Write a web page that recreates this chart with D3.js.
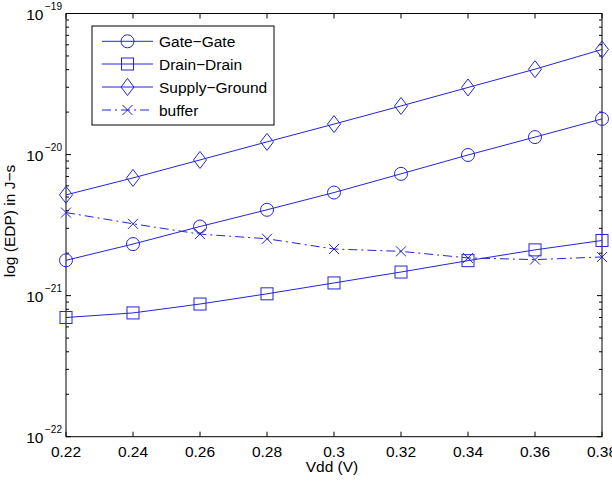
<!DOCTYPE html>
<html><head><meta charset="utf-8">
<script src="https://cdn.jsdelivr.net/npm/d3@7"></script>
<style>body{margin:0;background:#fff}svg{display:block}text{font-family:"Liberation Sans",Arial,sans-serif;fill:#000}</style>
</head><body><svg id="c" width="612" height="486"></svg>
<script>
const vdd = [0.22,0.24,0.26,0.28,0.30,0.32,0.34,0.36,0.38];
const gateGate = [1.78e-21,2.32e-21,3.09e-21,4.06e-21,5.38e-21,7.3e-21,9.93e-21,1.33e-20,1.79e-20];
const drainDrain = [7.0e-22,7.54e-22,8.72e-22,1.03e-21,1.23e-21,1.47e-21,1.77e-21,2.11e-21,2.46e-21];
const supplyGround = [5.18e-21,6.83e-21,9.16e-21,1.23e-20,1.645e-20,2.21e-20,2.99e-20,4.03e-20,5.56e-20];
const buffer = [3.88e-21,3.23e-21,2.73e-21,2.53e-21,2.14e-21,2.06e-21,1.85e-21,1.80e-21,1.88e-21];
const xTicks = [0.22,0.24,0.26,0.28,0.30,0.32,0.34,0.36,0.38];
const xTickLabels = ["0.22","0.24","0.26","0.28","0.3","0.32","0.34","0.36","0.38"];
const yExps = [-22,-21,-20,-19];
const seriesNames = ["Gate\u2212Gate","Drain\u2212Drain","Supply\u2212Ground","buffer"];

const svg = d3.select("#c");
const L=66,R=602,T=13.5,B=436.7;
const x = d3.scaleLinear().domain([0.22,0.38]).range([L,R]);
const y = d3.scaleLog().domain([1e-22,1e-19]).range([B,T]);
const col = "#2424d8";
const FS = 15.5;

// ticks
const g = svg.append("g").attr("stroke","#000").attr("stroke-width",1);
xTicks.forEach(v=>{
  g.append("line").attr("x1",x(v)).attr("x2",x(v)).attr("y1",B).attr("y2",B-5);
  g.append("line").attr("x1",x(v)).attr("x2",x(v)).attr("y1",T).attr("y2",T+5);
});
for(let e=-22;e<-19;e++){
  for(let m=1;m<10;m++){
    const v=m*Math.pow(10,e); const len=m===1?5:3;
    g.append("line").attr("x1",L).attr("x2",L+len).attr("y1",y(v)).attr("y2",y(v));
    g.append("line").attr("x1",R).attr("x2",R-len).attr("y1",y(v)).attr("y2",y(v));
  }
}
svg.append("rect").attr("x",L).attr("y",T).attr("width",R-L).attr("height",B-T)
  .attr("fill","none").attr("stroke","#000").attr("stroke-width",1);

// tick labels
xTicks.forEach((v,i)=>{
  svg.append("text").attr("x",x(v)).attr("y",B+20).attr("text-anchor","middle")
    .attr("font-size",FS).text(xTickLabels[i]);
});
yExps.forEach(e=>{
  const yy=y(Math.pow(10,e));
  svg.append("text").attr("x",43.5).attr("y",yy+6.5).attr("text-anchor","end").attr("font-size",FS).text("10");
  svg.append("text").attr("x",45).attr("y",yy-3.5).attr("font-size",10).text("\u2212"+(-e));
});
svg.append("text").attr("x",332).attr("y",472).attr("text-anchor","middle").attr("font-size",FS).text("Vdd (V)");
svg.append("text").attr("transform",`translate(14.5,221) rotate(-90)`).attr("text-anchor","middle").attr("font-size",FS).text("log (EDP) in J\u2212s");

// markers
function marker(sel,type,cx,cy){
  if(type==="circle") sel.append("circle").attr("cx",cx).attr("cy",cy).attr("r",6.5);
  else if(type==="square") sel.append("rect").attr("x",cx-6).attr("y",cy-6).attr("width",12).attr("height",12);
  else if(type==="diamond") sel.append("path").attr("d",`M${cx},${cy-8.5}L${cx+6.5},${cy}L${cx},${cy+8.5}L${cx-6.5},${cy}Z`);
  else if(type==="x") sel.append("path").attr("d",`M${cx-5},${cy-5}L${cx+5},${cy+5}M${cx-5},${cy+5}L${cx+5},${cy-5}`);
}
const series=[
  {vals:gateGate,m:"circle",dash:null},
  {vals:drainDrain,m:"square",dash:null},
  {vals:supplyGround,m:"diamond",dash:null},
  {vals:buffer,m:"x",dash:"9,4,2,4"}
];
const line = d3.line().x((d,i)=>x(vdd[i])).y(d=>y(d));
series.forEach(s=>{
  svg.append("path").datum(s.vals).attr("d",line).attr("fill","none").attr("stroke",col)
    .attr("stroke-width",1).attr("stroke-dasharray",s.dash);
  const mg=svg.append("g").attr("fill","none").attr("stroke",col).attr("stroke-width",1);
  s.vals.forEach((v,i)=>marker(mg,s.m,x(vdd[i]),y(v)));
});

// legend
const lg = svg.append("g");
lg.append("rect").attr("x",92).attr("y",26).attr("width",182).attr("height",99).attr("fill","#fff").attr("stroke","#000").attr("stroke-width",1);
const rows=[41.3,64,87,110];
series.forEach((s,i)=>{
  const yy=rows[i];
  lg.append("line").attr("x1",102).attr("x2",153).attr("y1",yy).attr("y2",yy).attr("stroke",col).attr("stroke-width",1).attr("stroke-dasharray",s.dash);
  const mg=lg.append("g").attr("fill","none").attr("stroke",col).attr("stroke-width",1);
  marker(mg,s.m,127.5,yy);
  lg.append("text").attr("x",159).attr("y",yy+5.5).attr("font-size",FS).text(seriesNames[i]);
});
</script></body></html>
